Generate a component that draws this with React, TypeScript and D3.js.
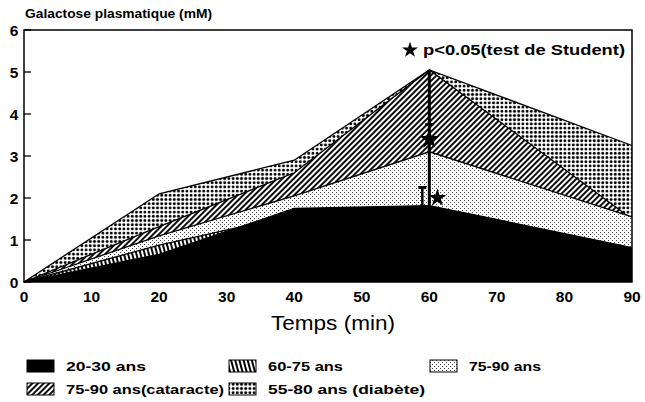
import React from 'react';
import * as d3 from 'd3';

// temps (min) et galactose plasmatique (mM) par groupe
const temps = [0, 20, 40, 60, 90];
const diabete = [0, 2.1, 2.9, 5.05, 3.25];
const cataracte = [0, 1.32, 2.6, 5.05, 1.5];
const ans7590 = [0, 1.1, 2.05, 3.1, 1.55];
const ans6075 = [0, 0.88, 1.6, 1.7, 0.75];
const ans2030 = [0, 0.66, 1.75, 1.82, 0.82];

const xTicks = [0, 10, 20, 30, 40, 50, 60, 70, 80, 90];
const yTicks = [0, 1, 2, 3, 4, 5, 6];

// etoiles p<0.05 (temps, valeur)
const etoiles = [
  { t: 60, v: 3.4 },
  { t: 61.2, v: 2.0 },
];

const W = 645;
const H = 402;
const font = "'Liberation Sans', Arial, sans-serif";

function App() {
  const x = d3.scaleLinear().domain([0, 90]).range([24, 632]);
  const y = d3.scaleLinear().domain([0, 6]).range([282, 30]);

  const area = d3
    .area<number>()
    .x((d, i) => x(temps[i]))
    .y0(y(0))
    .y1((d) => y(d));
  const line = d3
    .line<number>()
    .x((d, i) => x(temps[i]))
    .y((d) => y(d));

  // ordre de dessin: du fond vers l'avant
  const series = [
    { values: diabete, fill: 'url(#pDiab)' },
    { values: cataracte, fill: 'url(#pCat)' },
    { values: ans7590, fill: 'url(#pLight)' },
    { values: ans6075, fill: 'url(#pStripe)' },
    { values: ans2030, fill: '#000' },
  ];

  const star = (size: number) => d3.symbol().type(d3.symbolStar).size(size)()!;

  const legend = [
    { label: '20-30 ans', fill: '#000', col: 0, row: 0, w: 80 },
    { label: '60-75 ans', fill: 'url(#pStripe)', col: 1, row: 0, w: 75 },
    { label: '75-90 ans', fill: 'url(#pLight)', col: 2, row: 0, w: 72 },
    { label: '75-90 ans(cataracte)', fill: 'url(#pCat)', col: 0, row: 1, w: 158 },
    { label: '55-80 ans (diabète)', fill: 'url(#pDiab)', col: 1, row: 1, w: 157 },
  ];
  const colX = [27, 229, 430];
  const rowY = [360, 383];

  const x60 = x(60);

  return (
    <svg width={W} height={H} style={{ position: 'absolute', left: 0, top: 0 }} fontFamily={font}>
      <defs>
        <pattern id="pDiab" width={4.2} height={4.2} patternUnits="userSpaceOnUse">
          <rect width={4.2} height={4.2} fill="#fff" />
          <circle cx={2.1} cy={2.1} r={1.45} fill="#000" />
        </pattern>
        <pattern id="pCat" width={4} height={4} patternUnits="userSpaceOnUse" patternTransform="rotate(45)">
          <rect width={4} height={4} fill="#fff" />
          <line x1={2} y1={0} x2={2} y2={4} stroke="#000" strokeWidth={1.9} />
        </pattern>
        <pattern id="pStripe" width={4} height={4} patternUnits="userSpaceOnUse" patternTransform="rotate(-15)">
          <rect width={4} height={4} fill="#fff" />
          <line x1={2} y1={0} x2={2} y2={4} stroke="#000" strokeWidth={2} />
        </pattern>
        <pattern id="pLight" width={4} height={4} patternUnits="userSpaceOnUse">
          <rect width={4} height={4} fill="#fff" />
          <rect x={0} y={0} width={1} height={1} fill="#444" />
          <rect x={2} y={2} width={1} height={1} fill="#444" />
        </pattern>
      </defs>
      <rect width={W} height={H} fill="#fff" />

      <text x={25} y={18} fontSize={13.5} fontWeight="bold" textLength={187} lengthAdjust="spacingAndGlyphs">
        Galactose plasmatique (mM)
      </text>

      {series.map((s, i) => (
        <g key={i}>
          <path d={area(s.values)!} fill={s.fill} />
          <path d={line(s.values)!} fill="none" stroke="#000" strokeWidth={1.3} />
        </g>
      ))}

      {/* barres d'erreur a 60 min */}
      <line x1={x60} x2={x60} y1={y(5.05)} y2={y(1.82)} stroke="#000" strokeWidth={3} />
      <line x1={x60 - 4} x2={x60 + 4} y1={y(3.75)} y2={y(3.75)} stroke="#000" strokeWidth={3} />
      <line x1={x60 - 7} x2={x60 - 7} y1={y(2.25)} y2={y(1.82)} stroke="#000" strokeWidth={2.5} />
      <line x1={x60 - 11} x2={x60 - 3} y1={y(2.25)} y2={y(2.25)} stroke="#000" strokeWidth={3} />

      {etoiles.map((e, i) => (
        <path key={i} d={star(i === 0 ? 124 : 100)} transform={`translate(${x(e.t)},${y(e.v)})`} fill="#000" />
      ))}

      {/* cadre */}
      <rect x={24} y={30} width={608} height={252} fill="none" stroke="#000" strokeWidth={1.5} />
      {yTicks.map((t) => (
        <g key={t}>
          <line x1={24} x2={31} y1={y(t)} y2={y(t)} stroke="#000" strokeWidth={1.3} />
          <text x={14} y={y(t) + 5.5} fontSize={15.5} fontWeight="bold" textAnchor="middle">
            {t}
          </text>
        </g>
      ))}
      {xTicks.map((t) => (
        <text key={t} x={x(t)} y={302} fontSize={15.5} fontWeight="bold" textAnchor="middle">
          {t}
        </text>
      ))}
      <text x={333} y={330} fontSize={21} textAnchor="middle" textLength={124} lengthAdjust="spacingAndGlyphs">
        Temps (min)
      </text>

      {/* annotation */}
      <path d={star(80)} transform="translate(410,50)" fill="#000" />
      <text x={423} y={55} fontSize={15} fontWeight="bold" textLength={202} lengthAdjust="spacingAndGlyphs">
        p&lt;0.05(test de Student)
      </text>

      {/* legende */}
      {legend.map((l, i) => (
        <g key={i}>
          <rect x={colX[l.col]} y={rowY[l.row]} width={27} height={12} fill={l.fill} stroke="#000" strokeWidth={1} />
          <text
            x={colX[l.col] + 39}
            y={rowY[l.row] + 11}
            fontSize={12.5}
            fontWeight="bold"
            textLength={l.w}
            lengthAdjust="spacingAndGlyphs"
          >
            {l.label}
          </text>
        </g>
      ))}
    </svg>
  );
}

export default App;
